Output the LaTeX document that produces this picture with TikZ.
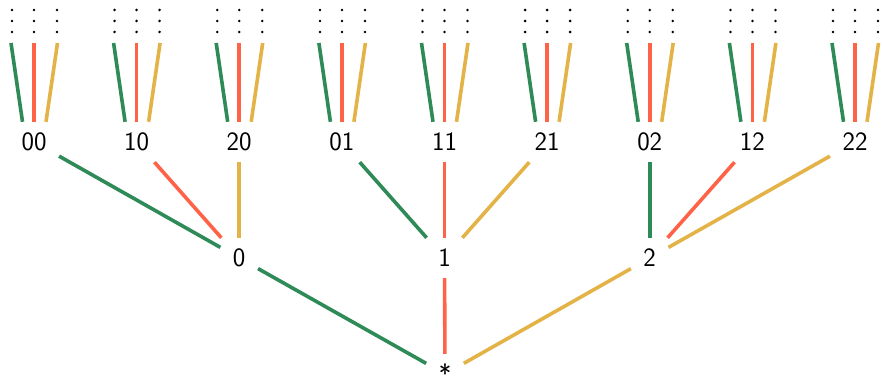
\documentclass[tikz,border=0pt]{standalone}
\definecolor{cg}{RGB}{46,139,87}
\definecolor{cr}{RGB}{255,99,71}
\definecolor{cy}{RGB}{227,179,72}
\begin{document}
\begin{tikzpicture}[x=1pt,y=-1pt,
  font=\fontsize{26.5}{32}\selectfont\sffamily,
  lbl/.style={rectangle, inner xsep=12.4pt, inner ysep=11pt, text height=18pt, text depth=0pt},
  edge/.style={line width=3.6pt}]
\useasboundingbox (0,0) rectangle (883,379);

% root and first level
\node[lbl] (r) at (445,374) {*};
\node[lbl] (n0) at (239.2,258) {0};
\node[lbl] (n1) at (444.5,258) {1};
\node[lbl] (n2) at (649.7,258) {2};
\draw[edge,cg] (r) -- (n0);
\draw[edge,cr] (r) -- (n1);
\draw[edge,cy] (r) -- (n2);

% second level, each with three continuing branches
\foreach \lab/\x/\pnode/\col in {00/34/n0/cg, 10/136.6/n0/cr, 20/239.2/n0/cy,
                               01/341.9/n1/cg, 11/444.5/n1/cr, 21/547.1/n1/cy,
                               02/649.7/n2/cg, 12/752.4/n2/cr, 22/855/n2/cy}{
  \node[lbl] (m\lab) at (\x,142) {\lab};
  \draw[edge,\col] (\pnode) -- (m\lab);
  \coordinate (m\lab-a) at (\x-23,43);
  \coordinate (m\lab-b) at (\x,43);
  \coordinate (m\lab-c) at (\x+23.5,43);
  \draw[edge,cg] ([xshift=-11.5pt]m\lab.north) -- (m\lab-a);
  \draw[edge,cr] (m\lab.north) -- (m\lab-b);
  \draw[edge,cy] ([xshift=12pt]m\lab.north) -- (m\lab-c);
  \foreach \dx in {-22,0,23}{
    \foreach \dy in {10,21,32}{
      \fill (\x+\dx,\dy) circle (1.4pt);
    }
  }
}
\end{tikzpicture}
\end{document}
